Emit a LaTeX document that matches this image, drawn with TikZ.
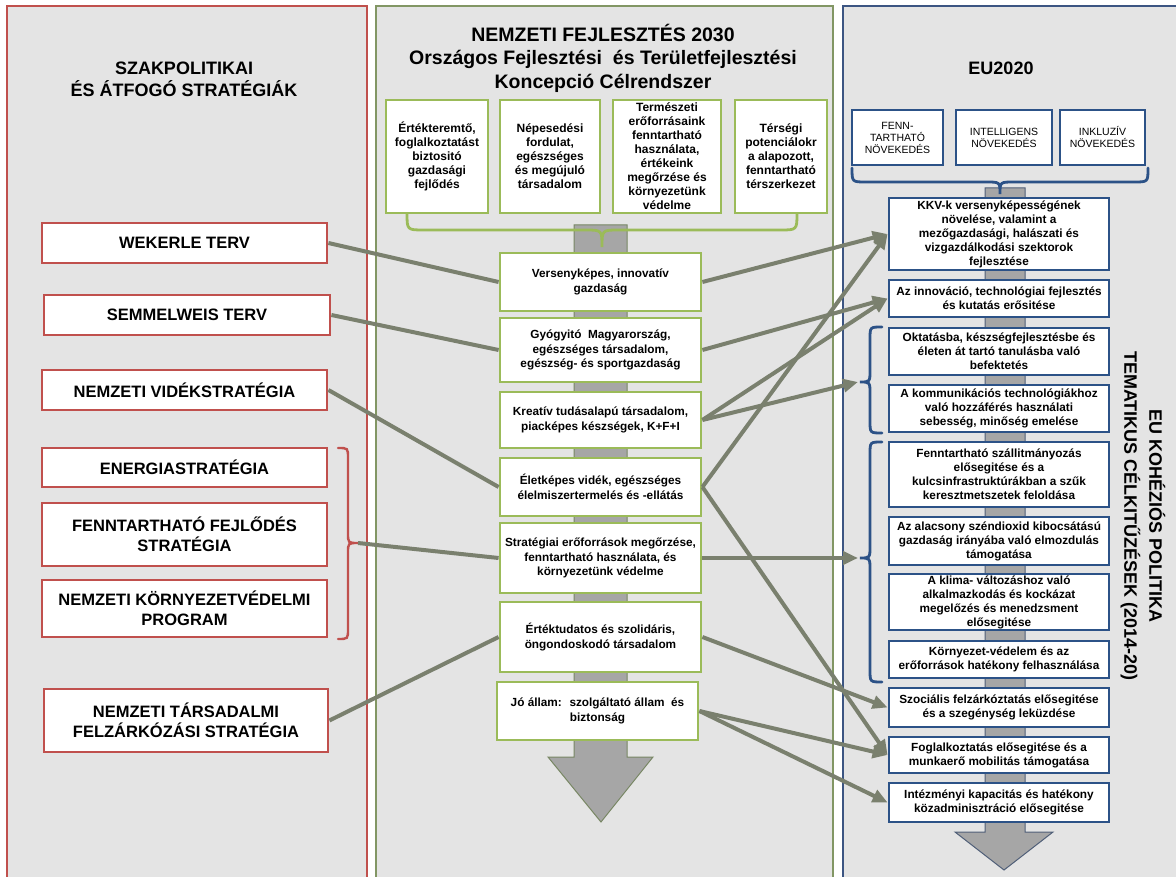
\documentclass[tikz,border=0pt]{standalone}
\usepackage{fontspec}
\setmainfont{Liberation Sans}
\usetikzlibrary{arrows.meta}
\definecolor{panelbg}{RGB}{228,228,228}
\definecolor{redb}{RGB}{192,80,77}
\definecolor{greenb}{RGB}{155,187,89}
\definecolor{blueb}{RGB}{44,82,135}
\definecolor{panelgreen}{RGB}{130,150,100}
\definecolor{panelblue}{RGB}{60,85,130}
\definecolor{conn}{RGB}{122,128,110}
\definecolor{spinefill}{RGB}{166,166,166}
\definecolor{spineedge}{RGB}{120,135,100}
\definecolor{spineedgeb}{RGB}{80,95,120}
\begin{document}
\begin{tikzpicture}[x=1pt,y=-1pt,
  box/.style={draw, line width=2.8pt, fill=white, align=center, inner sep=1pt,
    font=\bfseries\fontsize{12}{14}\selectfont},
  lbox/.style={box, draw=redb, font=\bfseries\fontsize{16.5}{19.5}\selectfont},
  gbox/.style={box, draw=greenb},
  cbox/.style={box, draw=greenb, font=\bfseries\fontsize{11.8}{14.5}\selectfont},
  bbox/.style={box, draw=blueb, font=\bfseries\fontsize{11.8}{14}\selectfont},
  ebox/.style={box, draw=blueb, font=\fontsize{10.5}{12}\selectfont},
  conline/.style={draw=conn, line width=4pt},
  conarrow/.style={conline, -{Triangle[length=15pt,width=13pt]}},
  brace/.style={line width=2.8pt, line cap=round},
  ttl/.style={align=center},
]
\useasboundingbox (0,0) rectangle (1176,877);
\fill[white] (0,0) rectangle (1176,877);
\begin{scope}
\clip (0,0) rectangle (1176,877);
\draw[redb, line width=1.2pt, fill=panelbg] (7,6) rectangle (367,890);
\draw[panelgreen, line width=1.2pt, fill=panelbg] (376,6) rectangle (833,890);
\draw[panelblue, line width=1.2pt, fill=panelbg] (843,6) rectangle (1190,890);
\end{scope}

% titles
\node[ttl, font=\bfseries\fontsize{18}{22}\selectfont] (tl) at (184,79) {SZAKPOLITIKAI\\ÉS ÁTFOGÓ STRATÉGIÁK};
\node[ttl, font=\bfseries\fontsize{19.5}{23.5}\selectfont] (tc) at (603,58) {NEMZETI FEJLESZTÉS 2030\\Országos Fejlesztési \ és Területfejlesztési\\Koncepció Célrendszer};
\node[ttl, font=\bfseries\fontsize{18}{22}\selectfont] (tr) at (1001,68) {EU2020};
\node[ttl, rotate=-90, font=\bfseries\fontsize{18}{25}\selectfont] (tv) at (1143,516) {EU KOHÉZIÓS POLITIKA\\TEMATIKUS CÉLKITŰZÉSEK (2014-20)};

% spines
\draw[fill=spinefill, draw=spineedge, line width=1pt] (574,225) -- (627,225) -- (627,757) -- (653,757) -- (601,822) -- (548,757) -- (574,757) -- cycle;
\draw[fill=spinefill, draw=spineedgeb, line width=1pt] (985,188) -- (1025,188) -- (1025,832) -- (1053,832) -- (1004,870) -- (955,832) -- (985,832) -- cycle;

% braces
\draw[brace, greenb] (407,213) .. controls (407,230) .. (424,230) -- (585,230) .. controls (602,230) .. (602,247) .. controls (602,230) .. (619,230) -- (780,230) .. controls (797,230) .. (797,213);
\draw[brace, blueb] (852,168) .. controls (852,182) .. (866,182) -- (986,182) .. controls (1000,182) .. (1000,194) .. controls (1000,182) .. (1014,182) -- (1134,182) .. controls (1148,182) .. (1148,168);
\draw[brace, blueb] (882,327) .. controls (870,327) .. (870,339) -- (870,370) .. controls (870,382) .. (860,382) .. controls (870,382) .. (870,394) -- (870,421) .. controls (870,433) .. (882,433);
\draw[brace, blueb] (882,442) .. controls (870,442) .. (870,454) -- (870,546) .. controls (870,558) .. (860,558) .. controls (870,558) .. (870,570) -- (870,670) .. controls (870,682) .. (882,682);
\draw[brace, redb, line width=2.4pt] (338,448) .. controls (348,448) .. (348,458) -- (348,533) .. controls (348,543) .. (358,543) .. controls (348,543) .. (348,553) -- (348,629) .. controls (348,639) .. (338,639);
\coordinate (bL) at (358,543);
\coordinate (bA) at (858,382);
\coordinate (bB) at (858,558);

% left boxes
\node[lbox, minimum width=285pt, minimum height=40pt] (wek) at (184.5,243) {WEKERLE TERV};
\node[lbox, minimum width=286pt, minimum height=40pt] (sem) at (187,315) {SEMMELWEIS TERV};
\node[lbox, minimum width=285pt, minimum height=40pt] (vid) at (184.5,390) {NEMZETI VIDÉKSTRATÉGIA};
\node[lbox, minimum width=285pt, minimum height=39pt] (ene) at (184.5,467.5) {ENERGIASTRATÉGIA};
\node[lbox, minimum width=285pt, minimum height=63pt] (fen) at (184.5,534.5) {FENNTARTHATÓ FEJLŐDÉS\\STRATÉGIA};
\node[lbox, minimum width=285pt, minimum height=57pt] (kor) at (184.5,608.5) {NEMZETI KÖRNYEZETVÉDELMI\\PROGRAM};
\node[lbox, minimum width=284pt, minimum height=63pt] (tar) at (186,720.5) {NEMZETI TÁRSADALMI\\FELZÁRKÓZÁSI STRATÉGIA};

% center top boxes
\node[gbox, minimum width=102pt, minimum height=113pt] (t1) at (437,156.5) {Értékteremtő,\\foglalkoztatást\\biztositó\\gazdasági\\fejlődés};
\node[gbox, minimum width=100pt, minimum height=113pt] (t2) at (550,156.5) {Népesedési\\fordulat,\\egészséges\\és megújuló\\társadalom};
\node[gbox, minimum width=108pt, minimum height=113pt] (t3) at (667,156.5) {Természeti\\erőforrásaink\\fenntartható\\használata,\\értékeink\\megőrzése és\\környezetünk\\védelme};
\node[gbox, minimum width=92pt, minimum height=113pt] (t4) at (781,156.5) {Térségi\\potenciálokr\\a alapozott,\\fenntartható\\térszerkezet};

% center column
\node[cbox, minimum width=201pt, minimum height=58pt] (c1) at (600.5,282) {Versenyképes, innovatív\\gazdaság};
\node[cbox, minimum width=201pt, minimum height=64pt] (c2) at (600.5,350) {Gyógyitó \ Magyarország,\\egészséges társadalom,\\egészség- és sportgazdaság};
\node[cbox, minimum width=201pt, minimum height=56pt] (c3) at (600.5,420) {Kreatív tudásalapú társadalom,\\piacképes készségek, K+F+I};
\node[cbox, minimum width=201pt, minimum height=58pt] (c4) at (600.5,487) {Életképes vidék, egészséges\\élelmiszertermelés és -ellátás};
\node[cbox, minimum width=201pt, minimum height=70pt] (c5) at (600.5,558) {Stratégiai erőforrások megőrzése,\\fenntartható használata, és\\környezetünk védelme};
\node[cbox, minimum width=201pt, minimum height=70pt] (c6) at (600.5,637) {Értéktudatos és szolidáris,\\öngondoskodó társadalom};
\node[cbox, minimum width=201pt, minimum height=58pt] (c7) at (597.5,711) {Jó állam: \ szolgáltató állam \ és\\biztonság};

% EU2020 boxes
\node[ebox, minimum width=91pt, minimum height=55pt] (e1) at (897.5,137.5) {FENN-\\TARTHATÓ\\NÖVEKEDÉS};
\node[ebox, minimum width=96pt, minimum height=55pt] (e2) at (1004,137.5) {INTELLIGENS\\NÖVEKEDÉS};
\node[ebox, minimum width=85pt, minimum height=55pt] (e3) at (1102.5,137.5) {INKLUZÍV\\NÖVEKEDÉS};

% right column
\node[bbox, minimum width=220pt, minimum height=72pt] (r1) at (999,234) {KKV-k versenyképességének\\növelése, valamint a\\mezőgazdasági, halászati és\\vizgazdálkodási szektorok\\fejlesztése};
\node[bbox, minimum width=220pt, minimum height=37pt] (r2) at (999,298.5) {Az innováció, technológiai fejlesztés\\és kutatás erősitése};
\node[bbox, minimum width=220pt, minimum height=47pt] (r3) at (999,351.5) {Oktatásba, készségfejlesztésbe és\\életen át tartó tanulásba való\\befektetés};
\node[bbox, minimum width=220pt, minimum height=47pt] (r4) at (999,408.5) {A kommunikációs technológiákhoz\\való hozzáférés használati\\sebesség, minőség emelése};
\node[bbox, minimum width=220pt, minimum height=65pt] (r5) at (999,474.5) {Fenntartható szállitmányozás\\elősegitése és a\\kulcsinfrastruktúrákban a szűk\\keresztmetszetek feloldása};
\node[bbox, minimum width=220pt, minimum height=48pt] (r6) at (999,541) {Az alacsony széndioxid kibocsátású\\gazdaság irányába való elmozdulás\\támogatása};
\node[bbox, minimum width=220pt, minimum height=56pt] (r7) at (999,602) {A klima- változáshoz való\\alkalmazkodás és kockázat\\megelőzés és menedzsment\\elősegitése};
\node[bbox, minimum width=220pt, minimum height=37pt] (r8) at (999,659.5) {Környezet-védelem és az\\erőforrások hatékony felhasználása};
\node[bbox, minimum width=220pt, minimum height=39pt] (r9) at (999,707.5) {Szociális felzárkóztatás elősegitése\\és a szegénység leküzdése};
\node[bbox, minimum width=220pt, minimum height=36pt] (r10) at (999,755) {Foglalkoztatás elősegitése és a\\munkaerő mobilitás támogatása};
\node[bbox, minimum width=220pt, minimum height=39pt] (r11) at (999,802.5) {Intézményi kapacitás és hatékony\\közadminisztráció elősegitése};

% left connectors
\draw[conline] (wek.east) -- (c1.west);
\draw[conline] (sem.east) -- (c2.west);
\draw[conline] (vid.east) -- (c4.west);
\draw[conline] (bL) -- (c5.west);
\draw[conline] (tar.east) -- (c6.west);

% right connectors
\draw[conarrow] (c1.east) -- (r1.west);
\draw[conarrow] (c2.east) -- (r2.west);
\draw[conarrow] (c3.east) -- (r2.west);
\draw[conarrow] (c3.east) -- (bA);
\draw[conarrow] (c4.east) -- (r1.west);
\draw[conarrow] (c4.east) -- (r10.west);
\draw[conarrow] (c5.east) -- (bB);
\draw[conarrow] (c6.east) -- (r9.west);
\draw[conarrow] (c7.east) -- (r10.west);
\draw[conarrow] (c7.east) -- (r11.west);
\end{tikzpicture}
\end{document}
